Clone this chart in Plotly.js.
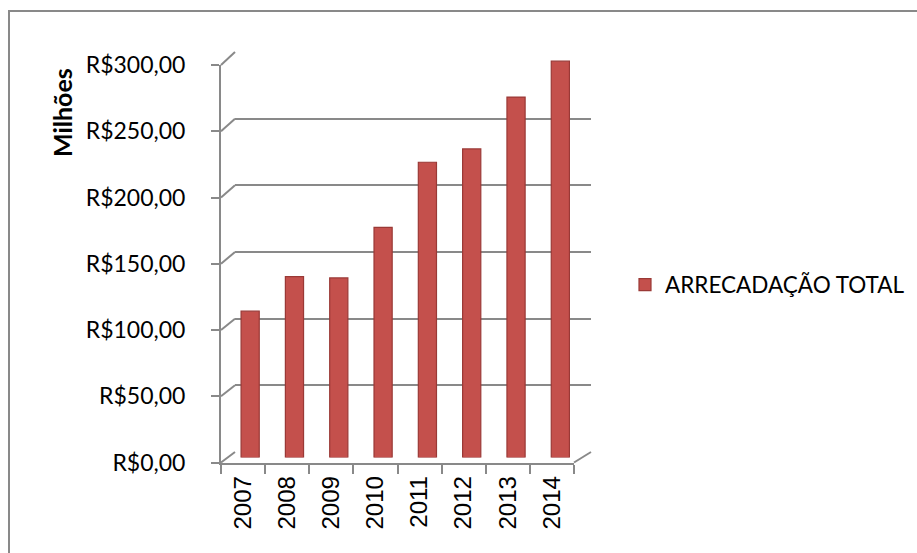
<!DOCTYPE html>
<html>
<head>
<meta charset="utf-8">
<script src="https://cdn.plot.ly/plotly-3.0.1.min.js"></script>
<style>html,body{margin:0;padding:0;background:#fff;}#chart{width:917px;height:553px;}</style>
</head>
<body>
<div id="chart"></div>
<script>
// ---- data ----
const years = ['2007', '2008', '2009', '2010', '2011', '2012', '2013', '2014'];
const arrecadacao = [110, 136, 135, 173, 222, 232, 271, 298];
const seriesName = 'ARRECADAÇÃO TOTAL';
const yTickVals = [0, 50, 100, 150, 200, 250, 300];
const yTickText = ['R$0,00', 'R$50,00', 'R$100,00', 'R$150,00', 'R$200,00', 'R$250,00', 'R$300,00'];
const yTitle = 'Milhões';

// ---- layout helpers ----
const W = 917, H = 553;
const px = x => x / W;
const py = y => 1 - y / H;
const GRID = '#898989';
const front = {x0: 221, x1: 574, yb: 462.5, yt: 65};
const back = {x0: 235, x1: 591, yb: 452, yt: 52};
const mid = {x0: 228, x1: 582.5, yb: 457.5, yt: 58.5};
const yMax = 300;

const shapes = [];
// outer chart border (only top & left visible)
shapes.push({type: 'rect', xref: 'paper', yref: 'paper', x0: px(9), x1: 1.05, y0: -0.05, y1: py(11),
  line: {color: GRID, width: 2}, fillcolor: 'rgba(0,0,0,0)', layer: 'below'});
// diagonal connectors from front axis to back wall
yTickVals.forEach(v => {
  const fy = front.yb - v * (front.yb - front.yt) / yMax;
  const by = back.yb - v * (back.yb - back.yt) / yMax;
  shapes.push({type: 'line', xref: 'paper', yref: 'paper', x0: px(front.x0), y0: py(fy), x1: px(back.x0), y1: py(by),
    line: {color: GRID, width: 2}, layer: 'below'});
});
// right floor edge
shapes.push({type: 'line', xref: 'paper', yref: 'paper', x0: px(front.x1), y0: py(front.yb), x1: px(back.x1), y1: py(back.yb),
  line: {color: GRID, width: 2}, layer: 'below'});

// invisible helper traces so that the front axes and back wall subplots are drawn
const helper = (xa, ya) => ({type: 'scatter', mode: 'markers', x: years, y: arrecadacao, xaxis: xa, yaxis: ya,
  marker: {opacity: 0}, showlegend: false, hoverinfo: 'skip'});

const data = [
  helper('x2', 'y2'),
  helper('x', 'y'),
  {type: 'bar', x: years, y: arrecadacao, name: seriesName, xaxis: 'x3', yaxis: 'y3',
   width: 0.41, marker: {color: '#C4504C', line: {color: '#9A3936', width: 1.2}},
   hoverinfo: 'x+y'}
];

const layout = {
  width: W, height: H, autosize: false,
  margin: {l: 0, r: 0, t: 0, b: 0},
  paper_bgcolor: '#ffffff', plot_bgcolor: 'rgba(0,0,0,0)',
  showlegend: true,
  font: {family: 'Lato, "Liberation Sans", sans-serif', color: '#000', size: 23},
  // front axes (labels, ticks)
  xaxis: {domain: [px(front.x0), px(front.x1)], anchor: 'y', type: 'category', categoryarray: years,
    range: [-0.5, years.length - 0.5], showgrid: false, zeroline: false, showline: true, linecolor: GRID, linewidth: 2,
    ticks: 'outside', ticklen: 9, tickwidth: 2, tickcolor: GRID, tickson: 'boundaries', tickangle: -90,
    ticklabelstandoff: 2,
    tickfont: {family: '"Liberation Sans", Arial, sans-serif', size: 24, color: '#000'}, fixedrange: true},
  yaxis: {domain: [py(front.yb), py(front.yt)], anchor: 'x', range: [0, yMax], tickvals: yTickVals, ticktext: yTickText,
    showgrid: false, zeroline: false, showline: true, linecolor: GRID, linewidth: 2,
    ticks: 'outside', ticklen: 8, tickwidth: 2, tickcolor: GRID, ticklabelstandoff: 21,
    tickfont: {family: 'Lato, sans-serif', size: 23, color: '#000'}, fixedrange: true},
  // back wall (gridlines)
  xaxis2: {domain: [px(back.x0), px(back.x1)], anchor: 'y2', type: 'category', categoryarray: years,
    range: [-0.5, years.length - 0.5], showgrid: false, showticklabels: false, ticks: '', zeroline: false, showline: false},
  yaxis2: {domain: [py(back.yb), py(back.yt)], anchor: 'x2', range: [0, yMax], tickvals: yTickVals,
    showgrid: true, gridcolor: GRID, gridwidth: 2, showticklabels: false, ticks: '', zeroline: false, showline: false},
  // mid-depth (bars)
  xaxis3: {domain: [px(mid.x0), px(mid.x1)], anchor: 'y3', type: 'category', categoryarray: years,
    range: [-0.5, years.length - 0.5], showgrid: false, showticklabels: false, ticks: '', zeroline: false, showline: false},
  yaxis3: {domain: [py(mid.yb), py(mid.yt)], anchor: 'x3', range: [0, yMax],
    showgrid: false, showticklabels: false, ticks: '', zeroline: false, showline: false},
  legend: {x: px(625), y: py(285), xanchor: 'left', yanchor: 'middle', orientation: 'v',
    font: {family: 'Lato, sans-serif', size: 22.5, color: '#000'}, bgcolor: 'rgba(0,0,0,0)', itemwidth: 30},
  annotations: [
    {text: '<b>' + yTitle + '</b>', xref: 'paper', yref: 'paper', x: px(62), y: py(113), textangle: -90,
     showarrow: false, xanchor: 'center', yanchor: 'middle', font: {family: 'Lato, sans-serif', size: 25, color: '#000'}}
  ],
  shapes: shapes
};

Plotly.newPlot('chart', data, layout, {displayModeBar: false, staticPlot: true});
</script>
</body>
</html>
